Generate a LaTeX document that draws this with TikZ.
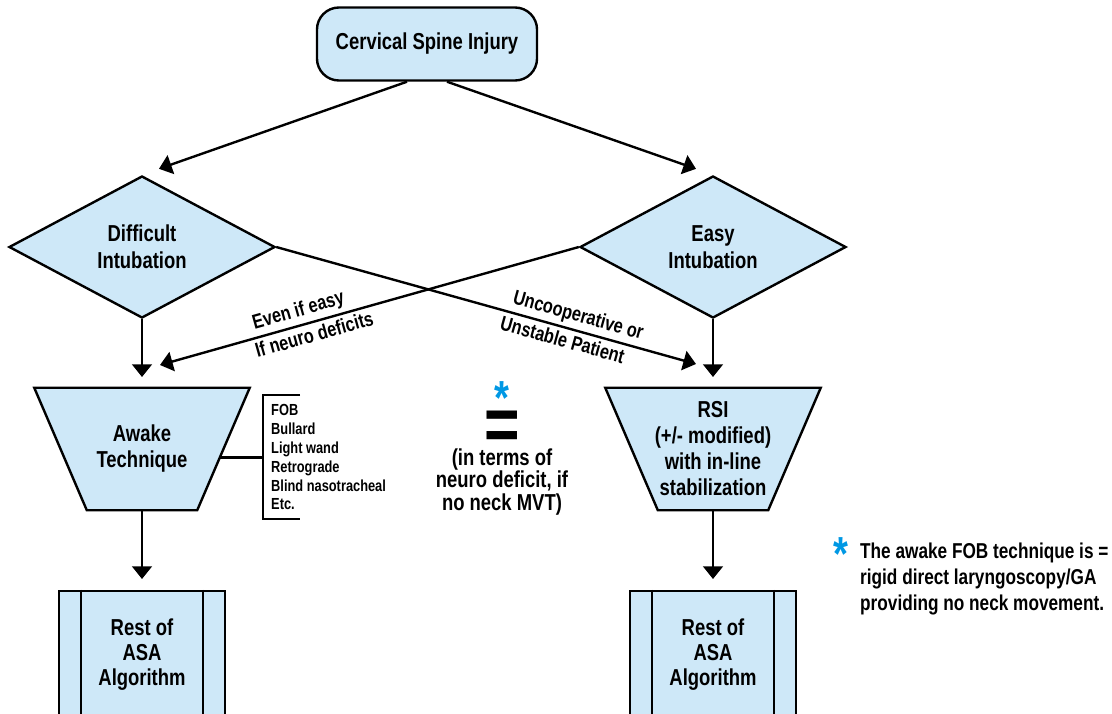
\documentclass[tikz,border=0pt]{standalone}
\usepackage{fontspec}
\setmainfont[FakeStretch=0.8]{Liberation Sans}
\usetikzlibrary{shapes.geometric}
\usetikzlibrary{arrows.meta}
\usetikzlibrary{calc}
\usetikzlibrary{backgrounds}
\usepackage{xcolor}

\definecolor{boxblue}{RGB}{206,232,248}
\definecolor{starblue}{RGB}{0,152,228}

\tikzset{
  every box/.style={draw, fill=boxblue, align=center, inner sep=0pt,
    font=\fontsize{16.4}{19.5}\selectfont\bfseries},
  startbox/.style={every box, rounded corners=0.55cm, minimum width=5.5cm, minimum height=1.825cm},
  decision/.style={every box, shape=diamond, minimum width=6.65cm, minimum height=3.55cm},
  technique/.style={every box, draw=none, fill=none, minimum width=5.325cm, minimum height=3cm,
    font=\fontsize{16.4}{18.5}\selectfont\bfseries},
  restbox/.style={every box, minimum width=4.15cm, minimum height=3.2cm,
    font=\fontsize{16.4}{17.8}\selectfont\bfseries},
  devices/.style={align=left, inner xsep=0.175cm, inner ysep=0pt, minimum height=3.025cm,
    font=\fontsize{11.4}{13.5}\selectfont\bfseries},
  pathtext/.style={inner sep=2.5pt, font=\fontsize{14.5}{17}\selectfont\bfseries},
  aside/.style={align=center, inner sep=0pt, font=\fontsize{16.4}{16}\selectfont\bfseries},
  asterisk/.style={inner sep=0pt, text=starblue, text depth=-0.4em, font=\fontsize{34}{34}\selectfont\bfseries},
  equals/.style={inner sep=0pt, text depth=-0.18em, font=\fontsize{54}{54}\selectfont\bfseries}
}

\begin{document}
\begin{tikzpicture}[x=0.025cm, y=-0.025cm, line width=1.7pt, >={Triangle[length=9pt,width=14pt]}]

\useasboundingbox (0,0) rectangle (1112,713);
\clip (0,0) rectangle (1112,713);

\node [startbox] (injury) at (427,44) {Cervical Spine Injury};

\foreach \m/\x [count=\i] in {Difficult/142,Easy/713}
  \node [decision] (decision-\i) at (\x,247) {\m\\Intubation};

\node [technique] (technique-1) at (142,449) {Awake\\Technique};
\node [technique] (technique-2) at (713,449) {RSI\\(+/- modified)\\with in-line\\stabilization};

\foreach \x [count=\i] in {142,713}
  \node [restbox] (rest-\i) at (\x,655) {Rest of\\ASA\\Algorithm};

\foreach \i in {1,2} { % inner bars of the end boxes
  \draw ([xshift=0.575cm]rest-\i.north west) -- ([xshift=0.575cm]rest-\i.south west);
  \draw ([xshift=-0.575cm]rest-\i.north east) -- ([xshift=-0.575cm]rest-\i.south east);
}

\draw [->, shorten >=0.45cm] ([xshift=-0.5cm]injury.south) -- (decision-1.north);
\draw [->, shorten >=0.45cm] ([xshift=0.5cm]injury.south) -- (decision-2.north);

\foreach \i in {1,2} {
  \draw [->, shorten >=0.27cm] (decision-\i) -- (technique-\i);
  \draw [->, shorten >=0.27cm] (technique-\i) -- (rest-\i);
}

\coordinate (neuro-end) at (160,365);
\coordinate (unstable-end) at (696,364);

\draw [<-] (neuro-end) -- node [pathtext, sloped, above, pos=0.34] {Even if easy}
  node [pathtext, sloped, below, pos=0.36] {If neuro deficits} (decision-2.west);
\draw [->] (decision-1.east) -- node [pathtext, sloped, above, pos=0.71] {Uncooperative or}
  node [pathtext, sloped, below, pos=0.69] {Unstable Patient} (unstable-end);

\node [devices, anchor=west] (devices) at (263,457) {FOB\\Bullard\\Light wand\\Retrograde\\Blind nasotracheal\\Etc.};
\draw ([xshift=0.925cm]devices.north west) -- (devices.north west) -- (devices.south west) -- ++(0.925cm,0);
\coordinate (awake-side) at ($(technique-1.north east)!0.57!([xshift=-1.3125cm]technique-1.south east)$);
\draw (awake-side) -- (awake-side -| devices.west);

\node [asterisk] (asterisk-1) at (502,398) {*};
\node [equals] (equals) at (502,431) {=};
\node [aside] (neuro-note) at (502,482) {(in terms of\\neuro deficit, if\\no neck MVT)};

\node [asterisk] (asterisk-2) at (841,554) {*};
\node [aside, anchor=west, align=left, font=\fontsize{15.3}{18.5}\selectfont\bfseries] (fob-note) at (859,579)
  {The awake FOB technique is =\\rigid direct laryngoscopy/GA\\providing no neck movement.};

% the funnel shapes behind the technique texts
\begin{pgfonlayer}{background}
\foreach \i in {1,2}
  \filldraw [fill=boxblue, line width=1.7pt] (technique-\i.north west) -- (technique-\i.north east)
    -- ([xshift=-1.3125cm]technique-\i.south east) -- ([xshift=1.3125cm]technique-\i.south west) -- cycle;
\end{pgfonlayer}

\end{tikzpicture}
\end{document}
